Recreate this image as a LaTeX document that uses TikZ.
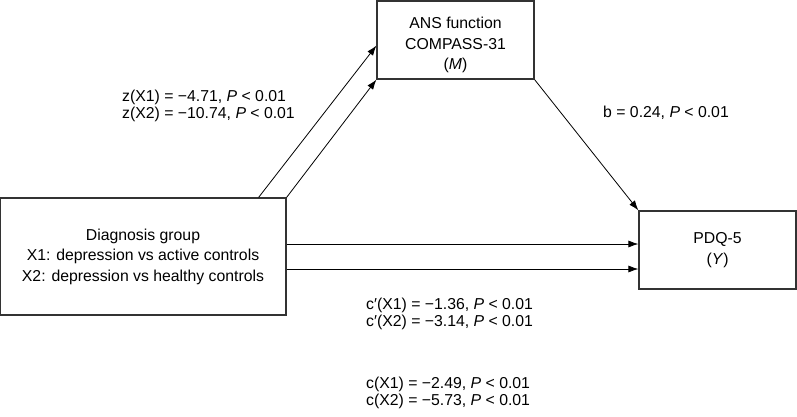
\documentclass[tikz,border=0pt]{standalone}
\usepackage{fontspec}
\setmainfont{Liberation Sans}
\usetikzlibrary{arrows.meta,calc}

\begin{document}
\begin{tikzpicture}[x=1pt,y=-1pt]
  \tikzset{box/.style={draw=black!80, line width=1.2pt, minimum width=157pt,
      minimum height=78pt, inner sep=0pt, align=center,
      font=\fontsize{15.8}{20.5}\selectfont},
    boxtext/.style={inner sep=0pt, align=center,
      font=\fontsize{15.8}{20.5}\selectfont},
    path/.style={-{Latex[length=10pt,width=7pt]}, line width=0.8pt},
    coef/.style={anchor=west, align=left, inner sep=0pt,
      font=\fontsize{15.8}{16.5}\selectfont}}
  \useasboundingbox (0,0) rectangle (797,416);
  % variables
  \node[box, label={[boxtext, yshift=-5pt]center:ANS function\\COMPASS-31\\(\textit{M})}]
      (ans) at (455.5,40) {};
  \node[box, minimum width=286pt, minimum height=117pt] (diag) at (143,256.5)
      {Diagnosis group\\X1: depression vs active controls\\X2: depression vs healthy controls};
  \node[box] (pdq) at (717.5,250) {PDQ-5\\(\textit{Y})};
  % paths a, b, c'
  \coordinate (za) at ($(diag.north east)+(-28,0)$);
  \coordinate (zb) at ($(ans.south west)+(0,-34)$);
  \draw[path] (za) -- (zb);
  \draw[path] (diag.north east) -- (ans.south west);
  \draw[path] (ans.south east) -- (pdq.north west);
  \coordinate (ca) at ($(diag.east)+(0,-12.5)$);
  \coordinate (cb) at ($(diag.east)+(0,12.5)$);
  \draw[path] (ca) -- (ca -| pdq.west);
  \draw[path] (cb) -- (cb -| pdq.west);
  % coefficients
  \node[coef] (zlab) at (122,106) {z(X1) = −4.71, \textit{P} < 0.01\\z(X2) = −10.74, \textit{P} < 0.01};
  \node[coef] (blab) at (603,113) {b = 0.24, \textit{P} < 0.01};
  \node[coef] (cplab) at (366,314) {c′(X1) = −1.36, \textit{P} < 0.01\\c′(X2) = −3.14, \textit{P} < 0.01};
  \node[coef] (clab) at (366,393) {c(X1) = −2.49, \textit{P} < 0.01\\c(X2) = −5.73, \textit{P} < 0.01};
\end{tikzpicture}
\end{document}
